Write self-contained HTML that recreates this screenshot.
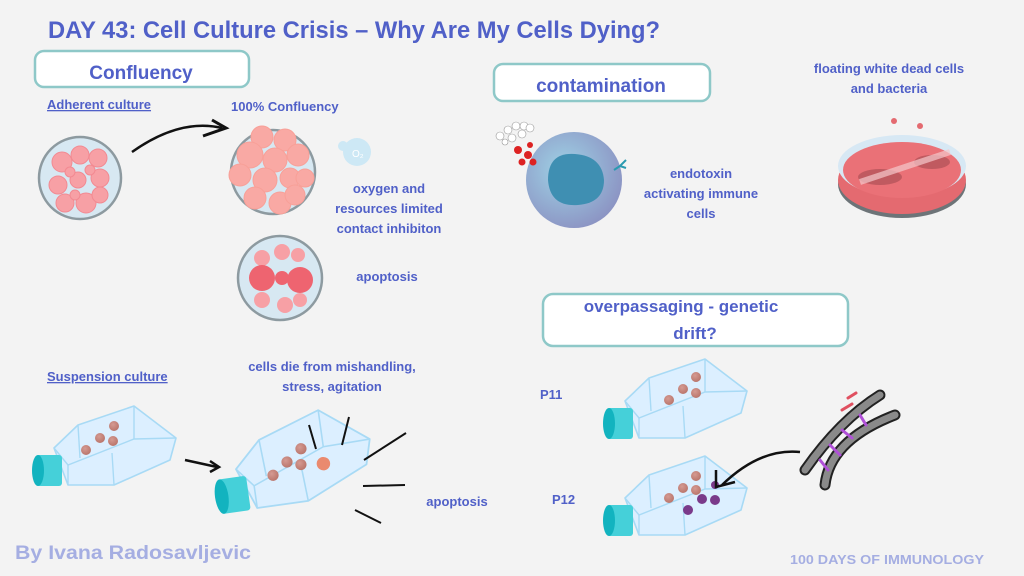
<!DOCTYPE html>
<html><head><meta charset="utf-8"><style>
body{margin:0;background:#f3f3f3}
svg{display:block}
text{font-family:"Liberation Sans",sans-serif;font-weight:bold;fill:#5060c8}
</style></head><body>
<svg width="1024" height="576" viewBox="0 0 1024 576" xmlns="http://www.w3.org/2000/svg">
<defs>
<g id="flask">
  <polygon points="22,-22 46,-45 102,-64 144,-32 138,-10 82,15 36,15" fill="#dcefff" stroke="#a8daf5" stroke-width="1.6" stroke-linejoin="round"/>
  <polyline points="22,-22 36,-5 102,-31 144,-32" fill="none" stroke="#a8daf5" stroke-width="1.4"/>
  <line x1="46" y1="-45" x2="48" y2="-12" stroke="#a8daf5" stroke-width="1.4"/>
  <line x1="102" y1="-64" x2="102" y2="-31" stroke="#a8daf5" stroke-width="1.4"/>
  <line x1="82" y1="15" x2="80" y2="-17" stroke="#a8daf5" stroke-width="1.4"/>
  <line x1="36" y1="-5" x2="36" y2="15" stroke="#a8daf5" stroke-width="1.4"/>
  <rect x="4" y="-15" width="26" height="31" rx="3" fill="#45d0d9"/>
  <ellipse cx="6" cy="0.5" rx="6" ry="15.5" fill="#12b3bf"/>
</g>
<radialGradient id="cell" cx="0.4" cy="0.35" r="0.7"><stop offset="0" stop-color="#d59a92"/><stop offset="1" stop-color="#b87369"/></radialGradient>
<radialGradient id="mac" cx="0.4" cy="0.4" r="0.7"><stop offset="0" stop-color="#9fd3e6"/><stop offset="1" stop-color="#8a8ec0"/></radialGradient>
</defs>

<text x="48" y="38" font-size="24" textLength="612" lengthAdjust="spacingAndGlyphs">DAY 43: Cell Culture Crisis – Why Are My Cells Dying?</text>

<rect x="35" y="51" width="214" height="36" rx="9" fill="#fff" stroke="#8ec8c8" stroke-width="2.5"/>
<text x="141" y="79" font-size="19" text-anchor="middle">Confluency</text>
<text x="47" y="109" font-size="13" text-decoration="underline">Adherent culture</text>
<text x="231" y="111" font-size="13">100% Confluency</text>

<circle cx="80" cy="178" r="41" fill="#d7e8f2" stroke="#8d9aa0" stroke-width="2.5"/>
<g fill="#f7a0a5" stroke="#f28a92" stroke-width="1">
<circle cx="62" cy="162" r="10"/><circle cx="80" cy="155" r="9"/><circle cx="98" cy="158" r="9"/><circle cx="58" cy="185" r="9"/><circle cx="78" cy="180" r="8"/><circle cx="100" cy="178" r="9"/><circle cx="65" cy="203" r="9"/><circle cx="86" cy="203" r="10"/><circle cx="100" cy="195" r="8"/><circle cx="75" cy="195" r="5"/><circle cx="90" cy="170" r="5"/><circle cx="70" cy="172" r="5"/>
</g>
<path d="M132 152 Q180 118 222 128" fill="none" stroke="#111" stroke-width="2.5"/>
<path d="M212 120 L226 128 L203 136" fill="none" stroke="#111" stroke-width="3"/>

<circle cx="273" cy="172" r="42" fill="#d7e8f2" stroke="#8d9aa0" stroke-width="2.5"/>
<g fill="#f9a9a4" stroke="#f8a098" stroke-width="1">
<circle cx="262" cy="137" r="11"/><circle cx="285" cy="140" r="11"/><circle cx="250" cy="155" r="13"/><circle cx="275" cy="160" r="12"/><circle cx="298" cy="155" r="11"/><circle cx="240" cy="175" r="11"/><circle cx="265" cy="180" r="12"/><circle cx="290" cy="178" r="10"/><circle cx="305" cy="178" r="9"/><circle cx="255" cy="198" r="11"/><circle cx="280" cy="203" r="11"/><circle cx="295" cy="195" r="10"/>
</g>
<circle cx="357" cy="152" r="14" fill="#cde8f5"/><circle cx="343" cy="146" r="5" fill="#cde8f5"/>
<text x="352" y="157" font-size="10" style="fill:#fff;font-weight:normal">O₂</text>
<text x="389" y="193" font-size="13" text-anchor="middle">oxygen and</text>
<text x="389" y="213" font-size="13" text-anchor="middle">resources limited</text>
<text x="389" y="233" font-size="13" text-anchor="middle">contact inhibiton</text>

<circle cx="280" cy="278" r="42" fill="#d7e8f2" stroke="#8d9aa0" stroke-width="2.5"/>
<g fill="#f7a0a5"><circle cx="262" cy="258" r="8"/><circle cx="282" cy="252" r="8"/><circle cx="298" cy="255" r="7"/><circle cx="262" cy="300" r="8"/><circle cx="285" cy="305" r="8"/><circle cx="300" cy="300" r="7"/></g>
<g fill="#ee6470"><circle cx="262" cy="278" r="13"/><circle cx="300" cy="280" r="13"/><circle cx="282" cy="278" r="7"/></g>
<text x="387" y="281" font-size="13" text-anchor="middle">apoptosis</text>

<text x="47" y="381" font-size="13" text-decoration="underline">Suspension culture</text>
<text x="332" y="371" font-size="13" text-anchor="middle">cells die from mishandling,</text>
<text x="332" y="391" font-size="13" text-anchor="middle">stress, agitation</text>
<g transform="translate(32,470)">
<use href="#flask"/>
<g fill="url(#cell)"><circle cx="54" cy="-20" r="5"/><circle cx="68" cy="-32" r="5"/><circle cx="81" cy="-29" r="5"/><circle cx="82" cy="-44" r="5"/></g>
</g>
<line x1="185" y1="460" x2="217" y2="467" stroke="#111" stroke-width="2.5"/>
<path d="M210 461 L219 467 L210 472" fill="none" stroke="#111" stroke-width="2.5"/>
<g transform="translate(215,497) rotate(-8) scale(1.12)">
<use href="#flask"/>
<g fill="url(#cell)"><circle cx="54" cy="-12" r="5"/><circle cx="68" cy="-22" r="5"/><circle cx="80" cy="-18" r="5"/><circle cx="82" cy="-32" r="5"/></g>
<circle cx="100" cy="-16" r="6" fill="#ea8a6f"/>
</g>
<g stroke="#111" stroke-width="2"><line x1="309" y1="425" x2="316" y2="449"/><line x1="349" y1="417" x2="342" y2="445"/><line x1="406" y1="433" x2="364" y2="460"/><line x1="405" y1="485" x2="363" y2="486"/><line x1="381" y1="523" x2="355" y2="510"/></g>
<text x="457" y="506" font-size="13" text-anchor="middle">apoptosis</text>

<text x="15" y="559" font-size="19" style="fill:#a5aee2" textLength="236" lengthAdjust="spacingAndGlyphs">By Ivana Radosavljevic</text>

<rect x="494" y="64" width="216" height="37" rx="9" fill="#fff" stroke="#8ec8c8" stroke-width="2.5"/>
<text x="601" y="92" font-size="19" text-anchor="middle">contamination</text>
<text x="889" y="73" font-size="13" text-anchor="middle">floating white dead cells</text>
<text x="889" y="93" font-size="13" text-anchor="middle">and bacteria</text>
<circle cx="574" cy="180" r="48" fill="url(#mac)"/>
<path d="M548 180 Q548 152 575 154 Q602 156 604 180 Q604 203 578 205 Q550 207 548 180Z" fill="#3f8fb2"/>
<g fill="#fff" stroke="#999" stroke-width="0.6"><circle cx="500" cy="136" r="4"/><circle cx="508" cy="130" r="4"/><circle cx="516" cy="126" r="4"/><circle cx="524" cy="126" r="4"/><circle cx="530" cy="128" r="4"/><circle cx="512" cy="138" r="4"/><circle cx="522" cy="134" r="4"/><circle cx="505" cy="142" r="3"/></g>
<g fill="#d22"><circle cx="518" cy="150" r="4"/><circle cx="528" cy="155" r="4"/><circle cx="522" cy="162" r="3.5"/><circle cx="533" cy="162" r="3.5"/><circle cx="530" cy="145" r="3"/></g>
<path d="M614 170 L620 166 L626 160 M620 166 L626 168" stroke="#2a9ab0" stroke-width="2" fill="none"/>
<text x="701" y="178" font-size="13" text-anchor="middle">endotoxin</text>
<text x="701" y="198" font-size="13" text-anchor="middle">activating immune</text>
<text x="701" y="218" font-size="13" text-anchor="middle">cells</text>
<ellipse cx="902" cy="184" rx="64" ry="34" fill="#6d7478"/>
<ellipse cx="902" cy="180" rx="64" ry="34" fill="#e46a70"/>
<ellipse cx="902" cy="166" rx="64" ry="31" fill="#d7e8f4"/>
<ellipse cx="902" cy="170" rx="59" ry="28" fill="#ea7177"/>
<ellipse cx="880" cy="177" rx="22" ry="8" fill="#c05a60"/>
<ellipse cx="932" cy="162" rx="18" ry="7" fill="#c05a60"/>
<path d="M860 182 L950 152" stroke="#f5c8cc" stroke-width="6" opacity="0.7"/>
<circle cx="894" cy="121" r="3" fill="#e46a70"/><circle cx="920" cy="126" r="3" fill="#e46a70"/>

<rect x="543" y="294" width="305" height="52" rx="10" fill="#fff" stroke="#8ec8c8" stroke-width="2.5"/>
<text x="681" y="312" font-size="17" text-anchor="middle">overpassaging - genetic</text>
<text x="695" y="339" font-size="17" text-anchor="middle">drift?</text>
<text x="540" y="399" font-size="13">P11</text>
<text x="552" y="504" font-size="13">P12</text>
<g transform="translate(603,423)">
<use href="#flask"/>
<g fill="url(#cell)"><circle cx="66" cy="-23" r="5"/><circle cx="80" cy="-34" r="5"/><circle cx="93" cy="-30" r="5"/><circle cx="93" cy="-46" r="5"/></g>
</g>
<g transform="translate(603,520)">
<use href="#flask"/>
<g fill="url(#cell)"><circle cx="66" cy="-22" r="5"/><circle cx="80" cy="-32" r="5"/><circle cx="93" cy="-30" r="5"/><circle cx="93" cy="-44" r="5"/></g>
<g fill="#7a3a8a"><circle cx="99" cy="-21" r="5"/><circle cx="112" cy="-20" r="5"/><circle cx="85" cy="-10" r="5"/><circle cx="112" cy="-35" r="4"/></g>
</g>
<path d="M800 452 Q760 448 722 485" fill="none" stroke="#111" stroke-width="2.5"/>
<path d="M716 470 L716 487 L735 482" fill="none" stroke="#111" stroke-width="2.5"/>
<g fill="none" stroke-linecap="round">
<path d="M805 470 Q840 420 880 395" stroke="#222" stroke-width="11"/>
<path d="M805 470 Q840 420 880 395" stroke="#8a8a8a" stroke-width="7"/>
<path d="M825 485 Q830 440 895 415" stroke="#222" stroke-width="11"/>
<path d="M825 485 Q830 440 895 415" stroke="#8a8a8a" stroke-width="7"/>
<g stroke="#b050d8" stroke-width="3"><line x1="820" y1="460" x2="828" y2="470"/><line x1="830" y1="445" x2="840" y2="455"/><line x1="842" y1="430" x2="852" y2="438"/><line x1="860" y1="415" x2="866" y2="425"/></g>
<line x1="848" y1="398" x2="856" y2="393" stroke="#e05060" stroke-width="3"/>
<line x1="842" y1="410" x2="852" y2="404" stroke="#e05060" stroke-width="3"/>
</g>

<text x="790" y="564" font-size="13" style="fill:#a5aee2" textLength="194" lengthAdjust="spacingAndGlyphs">100 DAYS OF IMMUNOLOGY</text>
</svg>
</body></html>
